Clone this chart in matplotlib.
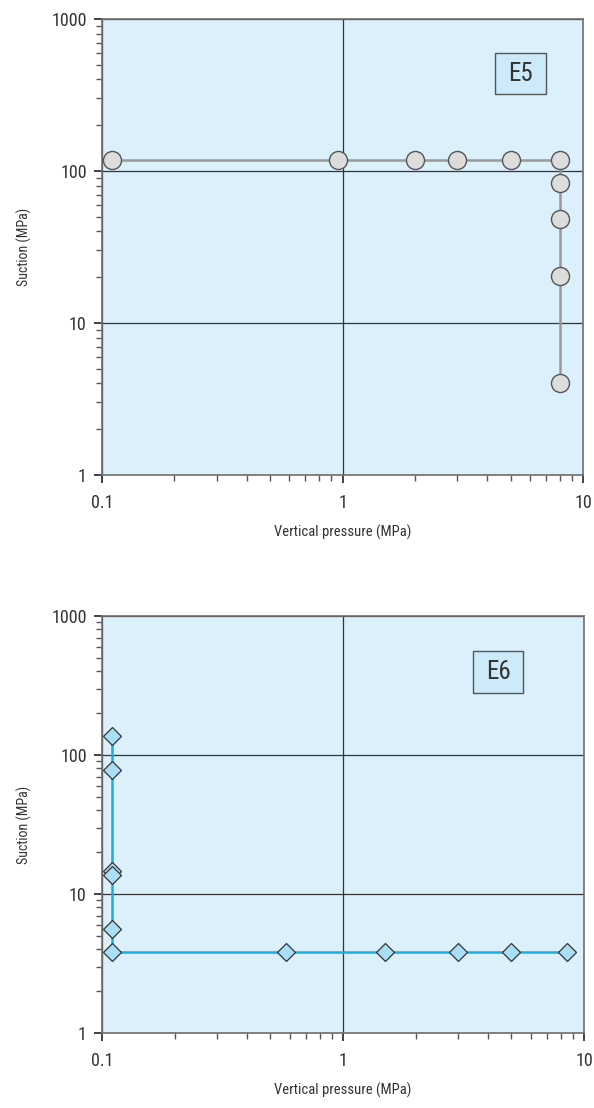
import matplotlib
matplotlib.use("Agg")
import matplotlib.pyplot as plt
from matplotlib.patches import Rectangle
from matplotlib.ticker import LogLocator, FixedLocator, FixedFormatter, NullFormatter

plt.rcParams['font.family'] = ['Roboto Condensed', 'DejaVu Sans']

# E5 data (vertical pressure, suction)
e5_pressure = [0.11, 0.96, 2.0, 3.0, 5.0, 8.0, 8.0, 8.0, 8.0, 8.0]
e5_suction = [119, 119, 119, 119, 119, 119, 83, 48, 20.5, 4.0]

# E6 data
e6_pressure = [0.11, 0.11, 0.11, 0.11, 0.11, 0.11, 0.58, 1.5, 3.0, 5.0, 8.5]
e6_suction = [136, 78, 14.7, 13.8, 5.6, 3.8, 3.8, 3.8, 3.8, 3.8, 3.8]

x_ticks = [0.1, 1, 10]
x_labels = ["0.1", "1", "10"]
y_ticks = [1, 10, 100, 1000]
y_labels = ["1", "10", "100", "1000"]

BG = "#dbf0fb"
TXT = "#333333"

fig = plt.figure(figsize=(5.94, 11.08), dpi=100)
ax1 = fig.add_axes([102/594, 1-475/1108, 481/594, 456/1108])
ax2 = fig.add_axes([102/594, 1-1033/1108, 482/594, 417/1108])


def style(ax, label, box, xlab_y):
    ax.set_xscale('log')
    ax.set_yscale('log')
    ax.set_xlim(0.1, 10)
    ax.set_ylim(1, 1000)
    ax.set_facecolor(BG)
    for s in ax.spines.values():
        s.set_color("#707070")
        s.set_linewidth(1.2)
    ax.xaxis.set_major_locator(FixedLocator(x_ticks))
    ax.xaxis.set_major_formatter(FixedFormatter(x_labels))
    ax.yaxis.set_major_locator(FixedLocator(y_ticks))
    ax.yaxis.set_major_formatter(FixedFormatter(y_labels))
    ax.xaxis.set_minor_locator(LogLocator(base=10, subs=range(2, 10)))
    ax.yaxis.set_minor_locator(LogLocator(base=10, subs=range(2, 10)))
    ax.xaxis.set_minor_formatter(NullFormatter())
    ax.yaxis.set_minor_formatter(NullFormatter())
    ax.tick_params(axis='both', which='major', direction='out', length=6,
                   width=1.2, color="#222222", labelsize=13, labelcolor=TXT)
    ax.tick_params(axis='both', which='minor', direction='out', length=4.5,
                   width=1.0, color="#555555")
    ax.tick_params(axis='x', which='major', pad=8)
    ax.tick_params(axis='y', which='major', pad=5)
    ax.grid(True, which='major', color="#333333", linewidth=0.9)
    ax.set_axisbelow(True)
    ax.set_xlabel("Vertical pressure (MPa)", fontsize=10.5, color=TXT)
    ax.xaxis.set_label_coords(0.5, xlab_y)
    ax.set_ylabel("Suction (MPa)", fontsize=10, color=TXT)
    ax.yaxis.set_label_coords(-0.145, 0.5)
    x0, y0, w, h = box
    ax.add_patch(Rectangle((x0, y0), w, h, transform=ax.transAxes,
                           facecolor="#cdeafa", edgecolor="#555555",
                           linewidth=1.0, zorder=5))
    ax.text(x0 + w / 2, y0 + h / 2, label, transform=ax.transAxes,
            ha='center', va='center', fontsize=18, color="#333333", zorder=6)


style(ax1, "E5", (0.817, 0.8355, 0.106, 0.0899), -0.108)
style(ax2, "E6", (0.770, 0.815, 0.104, 0.1007), -0.118)

ax1.plot(e5_pressure, e5_suction, color="#999999", linewidth=1.8,
         marker='o', markersize=13, markerfacecolor="#dcdcdc",
         markeredgecolor="#555555", markeredgewidth=1.0, zorder=3)

ax2.plot(e6_pressure, e6_suction, color="#1aaee6", linewidth=1.8,
         marker='D', markersize=9, markerfacecolor="#a9def6",
         markeredgecolor="#333333", markeredgewidth=0.9, zorder=3)

fig.savefig("out.png", dpi=100)
